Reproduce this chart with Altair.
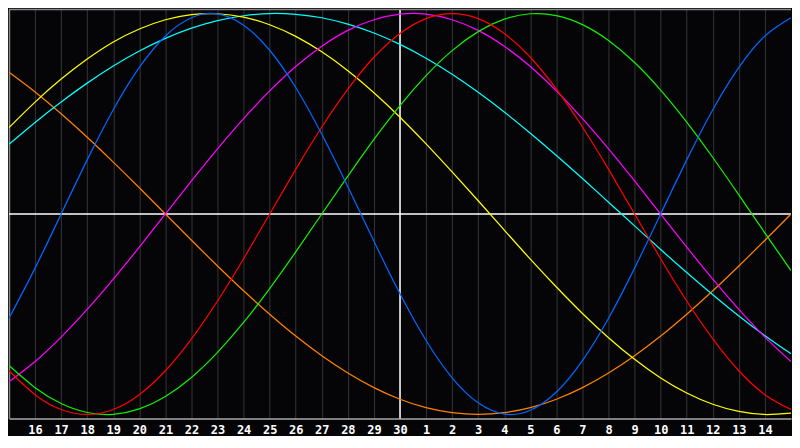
import json
import altair as alt
import pandas as pd

# day index across the window (0 = left edge, 30 = right edge)
days = list(range(31))
tick_days = list(range(1, 30))
tick_labels = ["16", "17", "18", "19", "20", "21", "22", "23", "24", "25", "26", "27",
               "28", "29", "30", "1", "2", "3", "4", "5", "6", "7", "8", "9", "10",
               "11", "12", "13", "14"]
month_break = [15]
zero_level = [0]

# cycle values in percent, read per day from the chart
physical = [-52.0, -27.0, 0.0, 27.0, 52.0, 73.1, 88.8, 97.9, 99.8, 94.2, 81.7, 63.1, 39.8,
            13.6, -13.6, -39.8, -63.1, -81.7, -94.2, -99.8, -97.9, -88.8, -73.1, -52.0,
            -27.0, 0.0, 27.0, 52.0, 73.1, 88.8, 97.9]
emotional = [-78.2, -90.1, -97.5, -100.0, -97.5, -90.1, -78.2, -62.3, -43.4, -22.3, 0.0,
             22.3, 43.4, 62.3, 78.2, 90.1, 97.5, 100.0, 97.5, 90.1, 78.2, 62.3, 43.4, 22.3,
             0.0, -22.3, -43.4, -62.3, -78.2, -90.1, -97.5]
intellectual = [-75.6, -86.6, -94.5, -99.0, -99.9, -97.2, -91.0, -81.5, -69.0, -54.1, -37.2,
                -18.9, 0.0, 18.9, 37.2, 54.1, 69.0, 81.5, 91.0, 97.2, 99.9, 99.0, 94.5,
                86.6, 75.6, 61.8, 45.8, 28.2, 9.5, -9.5, -28.2]
intuitive = [-83.7, -73.6, -61.4, -47.6, -32.5, -16.5, 0.0, 16.5, 32.5, 47.6, 61.4, 73.6,
             83.7, 91.6, 96.9, 99.7, 99.7, 96.9, 91.6, 83.7, 73.6, 61.4, 47.6, 32.5, 16.5,
             0.0, -16.5, -32.5, -47.6, -61.4, -73.6]
aesthetic = [43.1, 55.8, 67.3, 77.3, 85.8, 92.3, 96.9, 99.5, 99.9, 98.2, 94.4, 88.6, 80.9,
             71.5, 60.5, 48.3, 35.0, 21.0, 6.6, -8.0, -22.5, -36.4, -49.6, -61.7, -72.5,
             -81.8, -89.3, -94.9, -98.5, -100.0, -99.3]
awareness = [70.7, 60.9, 50.0, 38.3, 25.9, 13.1, 0.0, -13.1, -25.9, -38.3, -50.0, -60.9,
             -70.7, -79.3, -86.6, -92.4, -96.6, -99.1, -100.0, -99.1, -96.6, -92.4, -86.6,
             -79.3, -70.7, -60.9, -50.0, -38.3, -25.9, -13.1, 0.0]
spiritual = [34.8, 45.7, 55.9, 65.3, 73.8, 81.3, 87.6, 92.7, 96.5, 98.9, 100.0, 99.6, 97.9,
             94.7, 90.3, 84.6, 77.7, 69.7, 60.7, 50.9, 40.3, 29.2, 17.7, 5.9, -5.9, -17.7,
             -29.2, -40.3, -50.9, -60.7, -69.7]

series_names = ["Awareness", "Spiritual", "Aesthetic", "Intuitive", "Intellectual",
                "Emotional", "Physical"]
series_values = [awareness, spiritual, aesthetic, intuitive, intellectual, emotional, physical]
series_colors = ["#ff8000", "#00ffff", "#ffff00", "#ff00ff", "#11ee00", "#ff0000", "#0066ff"]

rows = []
for order, (name, vals) in enumerate(zip(series_names, series_values)):
    for t, v in zip(days, vals):
        rows.append({"t": t, "v": v, "series": name, "order": order})
df = pd.DataFrame(rows)

label_expr = json.dumps([""] + tick_labels) + "[datum.value]"

x_scale = alt.Scale(domain=[0, 30], nice=False, zero=False)
y_scale = alt.Scale(domain=[-102, 102], nice=False, zero=False)

x_axis = alt.Axis(
    values=tick_days, labelExpr=label_expr, grid=True, gridColor="#363636",
    gridWidth=1, ticks=False, domain=True, domainColor="#a8a8a8", domainWidth=1.5,
    labelColor="white", labelFont="DejaVu Sans Mono", labelFontWeight="bold",
    labelFontSize=12, labelPadding=6, labelOverlap=False, labelFlush=False,
    labelBound=False, title=None,
)
y_axis = alt.Axis(labels=False, ticks=False, grid=False, domain=True,
                  domainColor="#888888", domainWidth=1.5, title=None)

vline = alt.Chart(pd.DataFrame({"t": month_break})).mark_rule(
    color="white", strokeWidth=1.5).encode(x=alt.X("t:Q", scale=x_scale, axis=x_axis))
hline = alt.Chart(pd.DataFrame({"v": zero_level})).mark_rule(
    color="white", strokeWidth=1.5).encode(y=alt.Y("v:Q", scale=y_scale, axis=y_axis))

lines = alt.Chart(df).mark_line(strokeWidth=1.25, interpolate="natural", clip=True).encode(
    x=alt.X("t:Q", scale=x_scale, axis=x_axis),
    y=alt.Y("v:Q", scale=y_scale, axis=y_axis),
    color=alt.Color("series:N", scale=alt.Scale(domain=series_names, range=series_colors),
                    legend=None),
    order=alt.Order("order:Q"),
)

top_border = alt.Chart(pd.DataFrame({"a": [0]})).mark_rule(
    color="#888888", strokeWidth=1.5).encode(y=alt.value(0))

chart = alt.layer(vline, hline, lines, top_border).properties(
    width=784, height=410, padding=0, background="#050508"
).configure_view(strokeWidth=0)

chart.save("out.html", embed_options={"renderer": "svg", "actions": False})
